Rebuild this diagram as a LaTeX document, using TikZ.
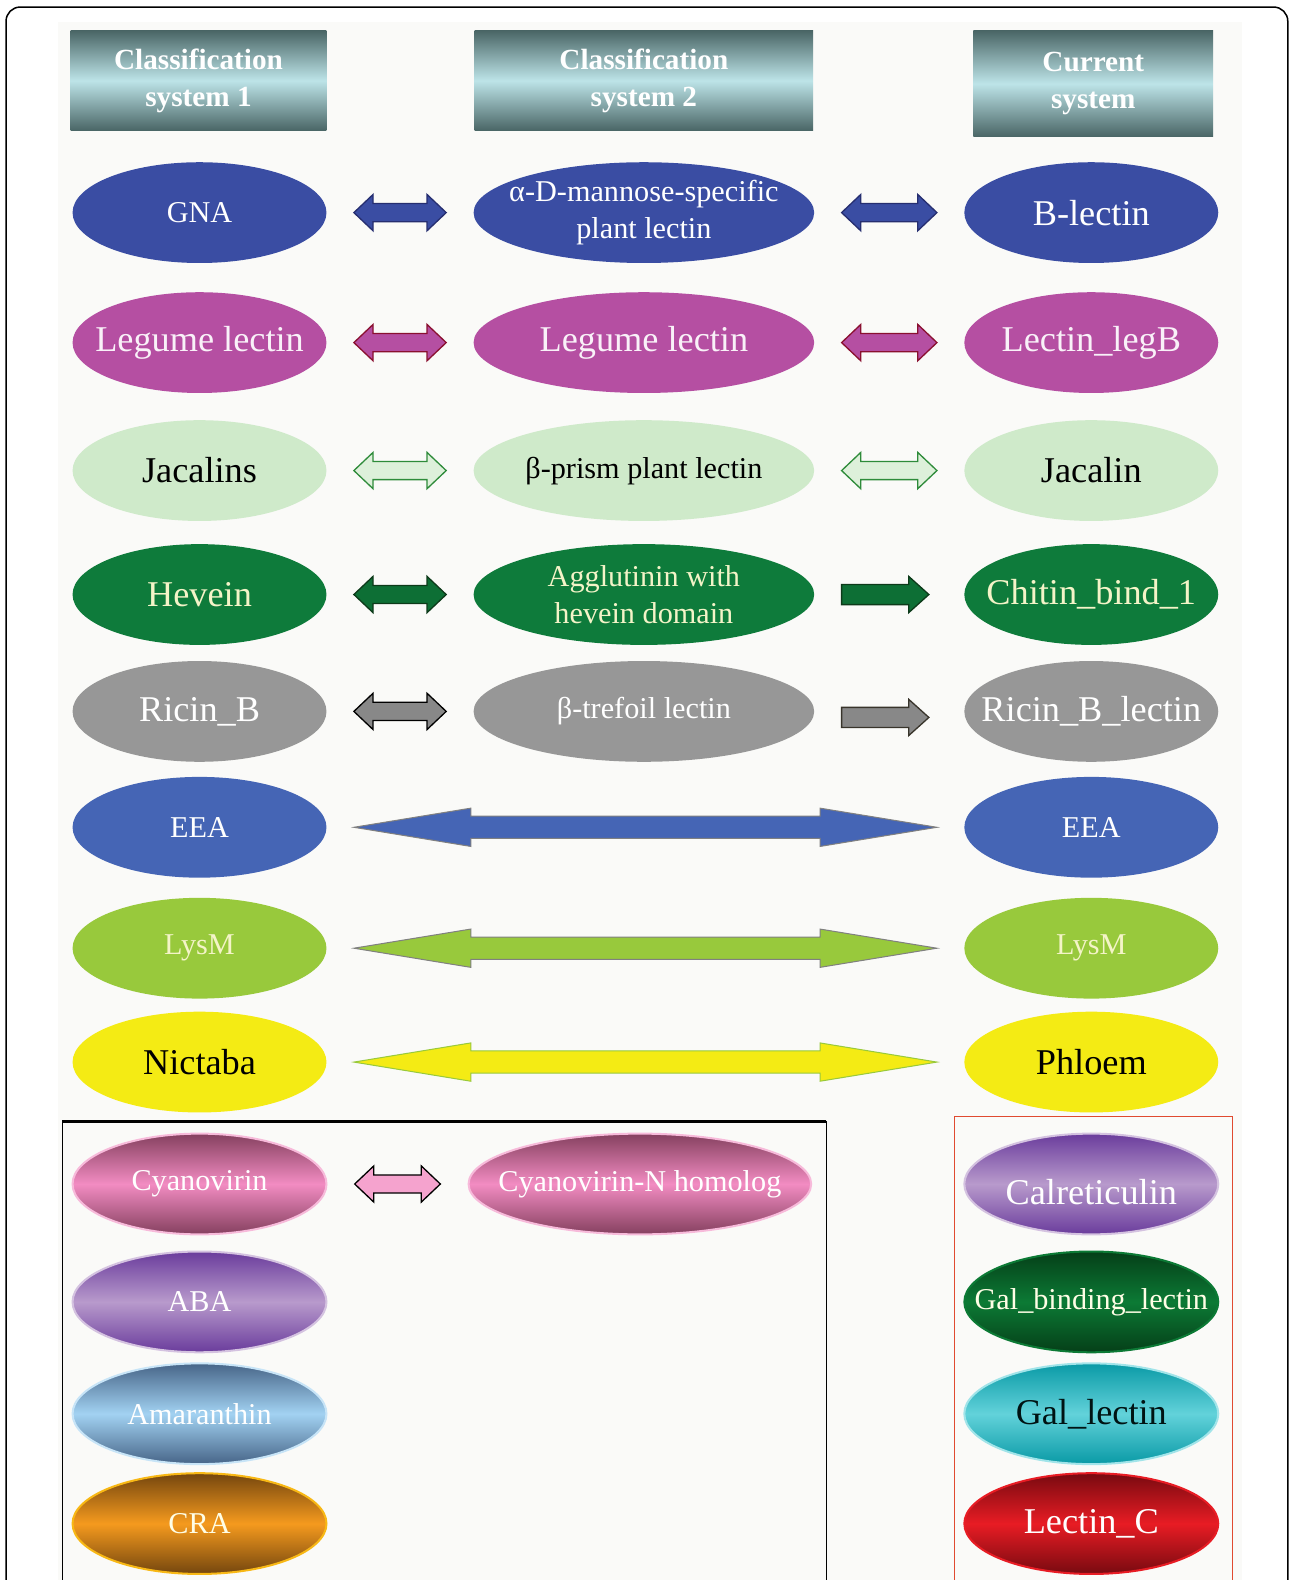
\documentclass[tikz,border=0pt]{standalone}
\usepackage{fontspec}
\setmainfont{Liberation Serif}
\usetikzlibrary{shapes.geometric,calc}
\definecolor{bgc}{HTML}{FAFAF8}
\definecolor{hdark}{HTML}{4A6666}
\definecolor{hlight}{HTML}{BDE4E8}
\definecolor{blueA}{HTML}{3A4DA3}
\definecolor{blueB}{HTML}{4565B5}
\definecolor{blueline}{HTML}{262E70}
\definecolor{mag}{HTML}{B54FA2}
\definecolor{magline}{HTML}{8A1030}
\definecolor{lgreen}{HTML}{CFEACA}
\definecolor{lgreenline}{HTML}{2E8B3A}
\definecolor{dgreen}{HTML}{0E7B3B}
\definecolor{dgreenline}{HTML}{0D3A1A}
\definecolor{greyA}{HTML}{979797}
\definecolor{lime}{HTML}{98C93C}
\definecolor{yel}{HTML}{F4EB14}
\definecolor{paletxt}{HTML}{F4F4C8}
\definecolor{pinkM}{HTML}{F28CC2}
\definecolor{pinkD}{HTML}{85405F}
\definecolor{purM}{HTML}{B89ACC}
\definecolor{purD}{HTML}{6A3C9C}
\definecolor{skyM}{HTML}{A2D2F2}
\definecolor{skyD}{HTML}{476588}
\definecolor{orM}{HTML}{F59A1E}
\definecolor{orD}{HTML}{74460E}
\definecolor{gbM}{HTML}{0C7A35}
\definecolor{gbD}{HTML}{053F18}
\definecolor{cyM}{HTML}{62D2DA}
\definecolor{cyD}{HTML}{0A9AA6}
\definecolor{redM}{HTML}{E81C24}
\definecolor{redD}{HTML}{780A10}
\definecolor{frameRed}{HTML}{E04A30}
% ellipse node with its text as a separate centred node: name, position, shape style, text style, text
\newcommand\enode[5]{%
 \node[#3] (#1) at (#2) {};
 \node[inner sep=0pt, align=center, #4] (#1-t) at (#1.center) {#5};}
% double block arrow between two nodes: style, from, to, headlen, headhalf, shafthalf
\newcommand\mkdbl[6]{%
 \path[#1] let \p1=(#2.east), \p2=(#3.west) in
  (\x1+27pt,\y1) -- (\x1+27pt+#4pt,\y1+#5pt) -- (\x1+27pt+#4pt,\y1+#6pt)
  -- (\x2-27pt-#4pt,\y1+#6pt) -- (\x2-27pt-#4pt,\y1+#5pt) -- (\x2-27pt,\y1)
  -- (\x2-27pt-#4pt,\y1-#5pt) -- (\x2-27pt-#4pt,\y1-#6pt)
  -- (\x1+27pt+#4pt,\y1-#6pt) -- (\x1+27pt+#4pt,\y1-#5pt) -- cycle;}
% single block arrow
\newcommand\mksgl[7]{%
 \path[#1] let \p1=(#2.east), \p2=(#3.west) in
  (\x1+27pt,\y1+#6pt+#7pt) -- (\x2-35pt-#4pt,\y1+#6pt+#7pt) -- (\x2-35pt-#4pt,\y1+#5pt+#7pt) -- (\x2-35pt,\y1+#7pt)
  -- (\x2-35pt-#4pt,\y1-#5pt+#7pt) -- (\x2-35pt-#4pt,\y1-#6pt+#7pt) -- (\x1+27pt,\y1-#6pt+#7pt) -- cycle;}
\begin{document}
\begin{tikzpicture}[x=1pt,y=-1pt,
  ell/.style={ellipse, inner sep=0pt, minimum height=100pt},
  side/.style={ell, minimum width=252pt},
  mid/.style={ell, minimum width=338pt},
  big/.style={font=\fontsize{36}{40}\selectfont},
  sm/.style={font=\fontsize{30}{37}\selectfont},
  hdr/.style={rectangle, inner sep=0pt, align=center, text=white,
    top color=hdark, bottom color=hdark, middle color=hlight,
    font=\bfseries\fontsize{29}{37}\selectfont},
  glow/.style 2 args={top color=#2, bottom color=#2, middle color=#1},
  arr/.style={line width=1.3pt, line join=miter}
]
\useasboundingbox (0,0) rectangle (1282,1568);
\fill[bgc] (58,22) rectangle (1233,1568);
\draw[line width=1.5pt, rounded corners=14pt] (6,1568) -- (6,7) -- (1278,7) -- (1278,1568);

% headers
\node[hdr, minimum width=254pt, minimum height=99pt] (h1) at (197,80) {Classification\\system 1};
\node[hdr, minimum width=336pt, minimum height=99pt] (h2) at (639,80) {Classification\\system 2};
\node[hdr, minimum width=238pt, minimum height=105pt] (h3) at (1085,83) {Current\\system};

% row 1
\enode{gna}{198,211}{side, fill=blueA}{sm, text=white}{GNA}
\enode{adm}{639,211}{mid, fill=blueA}{sm, text=white}{α-D-mannose-specific\\plant lectin}
\enode{blec}{1083,211}{side, fill=blueA}{big, text=white}{B-lectin}
\mkdbl{arr, fill=blueA, draw=blueline}{gna}{adm}{19}{18}{9}
\mkdbl{arr, fill=blueA, draw=blueline}{adm}{blec}{19}{18}{9}

% row 2
\enode{leg1}{198,340}{side, fill=mag}{big, text=white!92!mag}{Legume lectin}
\enode{leg2}{639,340}{mid, fill=mag}{big, text=white!92!mag}{Legume lectin}
\enode{legb}{1083,340}{side, fill=mag}{big, text=white!92!mag}{Lectin\_legB}
\mkdbl{arr, fill=mag, draw=magline}{leg1}{leg2}{19}{18}{9}
\mkdbl{arr, fill=mag, draw=magline}{leg2}{legb}{19}{18}{9}

% row 3
\enode{jacs}{198,467}{side, fill=lgreen}{big, text=black}{Jacalins}
\enode{bpr}{639,467}{mid, fill=lgreen}{sm, text=black}{β-prism plant lectin}
\enode{jac}{1083,467}{side, fill=lgreen}{big, text=black}{Jacalin}
\mkdbl{arr, fill=lgreen!70!white, draw=lgreenline}{jacs}{bpr}{19}{18}{9}
\mkdbl{arr, fill=lgreen!70!white, draw=lgreenline}{bpr}{jac}{19}{18}{9}

% row 4
\enode{hev}{198,590}{side, fill=dgreen}{big, text=paletxt}{Hevein}
\enode{agg}{639,590}{mid, fill=dgreen}{sm, text=paletxt}{Agglutinin with\\hevein domain}
\enode{chit}{1083,590}{side, fill=dgreen}{big, text=paletxt}{Chitin\_bind\_1}
\mkdbl{arr, fill=dgreen!90!black, draw=dgreenline}{hev}{agg}{19}{18}{9}
\mksgl{arr, fill=dgreen!90!black, draw=dgreenline}{agg}{chit}{20}{18}{10}{0}

% row 5
\enode{ric}{198,706}{side, fill=greyA}{big, text=white}{Ricin\_B}
\enode{btr}{639,706}{mid, fill=greyA}{sm, text=white}{β-trefoil lectin}
\enode{ricl}{1083,706}{side, fill=greyA}{big, text=white}{Ricin\_B\_lectin}
\mkdbl{arr, fill=greyA!90!black, draw=black}{ric}{btr}{19}{18}{9}
\mksgl{arr, fill=greyA!90!black, draw=black!80!olive}{btr}{ricl}{20}{18}{10}{-6}

% row 6
\enode{eea1}{198,821}{side, fill=blueB}{sm, text=white}{EEA}
\enode{eea2}{1083,821}{side, fill=blueB}{sm, text=white}{EEA}
\mkdbl{line width=1pt, fill=blueB, draw=gray}{eea1}{eea2}{116}{19}{11}

% row 7
\enode{lys1}{198,941}{side, fill=lime}{sm, text=paletxt}{LysM}
\enode{lys2}{1083,941}{side, fill=lime}{sm, text=paletxt}{LysM}
\mkdbl{line width=1pt, fill=lime, draw=gray}{lys1}{lys2}{116}{19}{11}

% row 8
\enode{nic}{198,1054}{side, fill=yel}{big, text=black}{Nictaba}
\enode{phl}{1083,1054}{side, fill=yel}{big, text=black}{Phloem}
\mkdbl{line width=1pt, fill=yel, draw=lime}{nic}{phl}{116}{19}{11}

% frames
\draw[line width=1.2pt] (62,1568) -- (62,1113) -- (820,1113) -- (820,1568);
\draw[line width=3pt] (62,1113) -- (820,1113);
\draw[frameRed, line width=1.3pt] (947,1568) -- (947,1108) -- (1223,1108) -- (1223,1568);

% bottom left
\enode{cyn}{198,1175}{side, glow={pinkM}{pinkD}, draw=pinkM!60!white, line width=2pt}{sm, text=white}{Cyanovirin}
\enode{cynh}{635,1175}{ell, minimum width=340pt, glow={pinkM}{pinkD}, draw=pinkM!60!white, line width=2pt}{sm, text=white}{Cyanovirin-N homolog}
\mkdbl{arr, fill=pinkM!80!white, draw=black}{cyn}{cynh}{19}{18}{9}
\enode{aba}{198,1292}{side, glow={purM}{purD}, draw=purM!60!white, line width=2pt}{sm, text=white}{ABA}
\enode{ama}{198,1403}{side, glow={skyM}{skyD}, draw=skyM!60!white, line width=2pt}{sm, text=white}{Amaranthin}
\enode{cra}{198,1512}{side, glow={orM}{orD}, draw=orM!70!yellow, line width=2pt}{sm, text=white!90!yellow}{CRA}

% bottom right
\enode{calr}{1083,1175}{side, glow={purM}{purD}, draw=purM!60!white, line width=2pt}{big, text=white, yshift=-8pt}{Calreticulin}
\enode{galb}{1083,1292}{side, glow={gbM}{gbD}, draw=gbM, line width=2pt}{sm, text=white!90!yellow}{Gal\_binding\_lectin}
\enode{gall}{1083,1403}{side, glow={cyM}{cyD}, draw=cyM!60!white, line width=2pt}{big, text=black!85!teal}{Gal\_lectin}
\enode{lecc}{1083,1512}{side, glow={redM}{redD}, draw=redM, line width=2pt}{big, text=white}{Lectin\_C}
\end{tikzpicture}
\end{document}
